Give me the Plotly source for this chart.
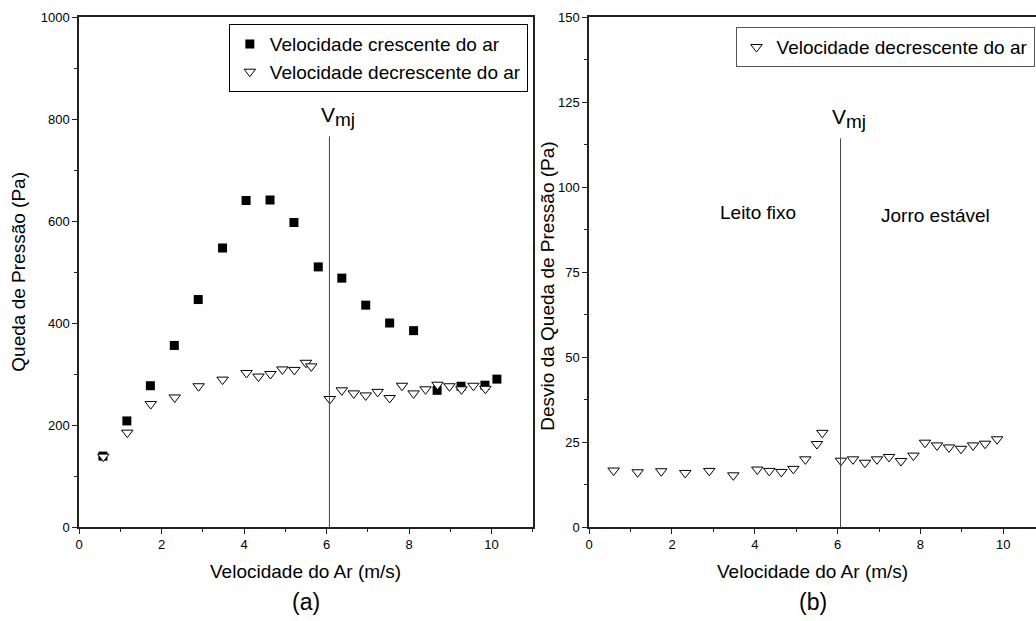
import plotly.graph_objects as go

# ---- data ----
vel_cres = [0.58, 1.16, 1.73, 2.31, 2.89, 3.48, 4.05, 4.63, 5.21, 5.80, 6.37, 6.95, 7.53, 8.11, 8.68, 9.26, 9.84, 10.13]
dp_cres = [139, 208, 277, 356, 446, 547, 640, 641, 597, 510, 488, 435, 400, 385, 268, 276, 278, 290]

vel_decr = [0.59, 1.17, 1.74, 2.32, 2.90, 3.48, 4.06, 4.35, 4.64, 4.93, 5.22, 5.50, 5.63, 6.08, 6.37, 6.66,
            6.95, 7.24, 7.53, 7.83, 8.11, 8.40, 8.69, 8.98, 9.27, 9.56, 9.85]
dp_decr = [138, 185, 241, 254, 276, 289, 302, 295, 300, 309, 308, 322, 315, 251, 268, 262,
           258, 265, 253, 277, 262, 270, 279, 276, 270, 277, 271]
desvio_decr = [16.6, 16.1, 16.4, 15.9, 16.5, 15.2, 16.9, 16.5, 16.2, 17.1, 19.9, 24.4, 27.7, 19.5, 19.9, 18.9,
               19.9, 20.6, 19.4, 21.0, 24.8, 24.0, 23.4, 23.0, 24.0, 24.5, 25.8]

v_mj = 6.07
vmj_top_a = 766
vmj_top_b = 114.3

FONT = "Liberation Sans, Arial, sans-serif"
TXT = 19

fig = go.Figure()

fig.add_trace(go.Scatter(
    x=vel_cres, y=dp_cres, mode="markers", name="Velocidade crescente do ar",
    marker=dict(symbol="square", size=9, color="black"),
    xaxis="x", yaxis="y", legend="legend"))
fig.add_trace(go.Scatter(
    x=vel_decr, y=dp_decr, mode="markers", name="Velocidade decrescente do ar",
    marker=dict(symbol="triangle-down", size=10, color="white", line=dict(color="black", width=1)),
    xaxis="x", yaxis="y", legend="legend"))
fig.add_trace(go.Scatter(
    x=vel_decr, y=desvio_decr, mode="markers", name="Velocidade decrescente do ar",
    marker=dict(symbol="triangle-down", size=10, color="white", line=dict(color="black", width=1)),
    xaxis="x2", yaxis="y2", legend="legend2"))

# Vmj lines
fig.add_trace(go.Scatter(x=[v_mj, v_mj], y=[0, vmj_top_a], mode="lines",
                         line=dict(color="#444", width=1), showlegend=False, hoverinfo="skip",
                         xaxis="x", yaxis="y"))
fig.add_trace(go.Scatter(x=[v_mj, v_mj], y=[0, vmj_top_b], mode="lines",
                         line=dict(color="#444", width=1), showlegend=False, hoverinfo="skip",
                         xaxis="x2", yaxis="y2"))

axis_common = dict(showgrid=False, zeroline=False, showline=True, linecolor="#222", linewidth=1.5,
                   ticks="outside", ticklen=5, tickwidth=1.2, tickcolor="#222",
                   tickfont=dict(size=13, color="black", family=FONT))

fig.update_layout(
    width=1036, height=621,
    margin=dict(l=79, r=0, t=17, b=93.5),
    plot_bgcolor="white", paper_bgcolor="white",
    font=dict(family=FONT, color="black"),
    xaxis=dict(domain=[0, 0.4742], range=[0, 11], tickvals=[0, 2, 4, 6, 8, 10], mirror=True,
               minor=dict(dtick=1, ticks="outside", ticklen=3, tickcolor="#222"), anchor="y", **axis_common),
    yaxis=dict(domain=[0, 1], range=[0, 1000], tickvals=[0, 200, 400, 600, 800, 1000], mirror=True,
               minor=dict(dtick=100, ticks="outside", ticklen=3, tickcolor="#222"), anchor="x", **axis_common),
    xaxis2=dict(domain=[0.5331, 1], range=[0, 10.79], tickvals=[0, 2, 4, 6, 8, 10], mirror=True,
                minor=dict(dtick=1, ticks="outside", ticklen=3, tickcolor="#222"), anchor="y2", **axis_common),
    yaxis2=dict(domain=[0, 1], range=[0, 150], tickvals=[0, 25, 50, 75, 100, 125, 150], mirror=False,
                minor=dict(dtick=12.5, ticks="outside", ticklen=3, tickcolor="#222"), anchor="x2", **axis_common),
    legend=dict(x=0.469, y=0.986, xanchor="right", yanchor="top", bgcolor="white",
                bordercolor="black", borderwidth=1, font=dict(size=TXT, family=FONT),
                tracegroupgap=0, itemsizing="trace"),
    legend2=dict(x=0.686, y=0.980, xanchor="left", yanchor="top", bgcolor="white",
                 bordercolor="#555", borderwidth=1, font=dict(size=TXT, family=FONT)),
    showlegend=True,
)

VMJ = "V<sub><span style='font-size:19px'>mj</span></sub>"

ann = []
# axis titles
ann.append(dict(text="Velocidade do Ar (m/s)", xref="x domain", yref="paper", x=0.5, y=-0.0866,
                showarrow=False, font=dict(size=TXT), xanchor="center", yanchor="middle"))
ann.append(dict(text="Velocidade do Ar (m/s)", xref="x2 domain", yref="paper", x=0.5, y=-0.0866,
                showarrow=False, font=dict(size=TXT), xanchor="center", yanchor="middle"))
ann.append(dict(text="(a)", xref="x domain", yref="paper", x=0.5, y=-0.148,
                showarrow=False, font=dict(size=23), xanchor="center", yanchor="middle"))
ann.append(dict(text="(b)", xref="x2 domain", yref="paper", x=0.5, y=-0.148,
                showarrow=False, font=dict(size=23), xanchor="center", yanchor="middle"))
ann.append(dict(text="Queda de Pressão (Pa)", xref="paper", yref="paper", x=-0.0641, y=0.5, textangle=-90,
                showarrow=False, font=dict(size=TXT), xanchor="center", yanchor="middle"))
ann.append(dict(text="Desvio da Queda de Pressão (Pa)", xref="paper", yref="paper", x=0.49, y=0.473,
                textangle=-90, showarrow=False, font=dict(size=TXT), xanchor="center", yanchor="middle"))
# Vmj labels
ann.append(dict(text=VMJ, xref="x", yref="y", x=v_mj + 0.2, y=vmj_top_a + 8,
                showarrow=False, font=dict(size=21), xanchor="center", yanchor="bottom"))
ann.append(dict(text=VMJ, xref="x2", yref="y2", x=v_mj + 0.2, y=vmj_top_b + 1.2,
                showarrow=False, font=dict(size=21), xanchor="center", yanchor="bottom"))
ann.append(dict(text="Leito fixo", xref="x2", yref="y2", x=4.08, y=92.4,
                showarrow=False, font=dict(size=TXT), xanchor="center", yanchor="middle"))
ann.append(dict(text="Jorro estável", xref="x2", yref="y2", x=8.37, y=91.5,
                showarrow=False, font=dict(size=TXT), xanchor="center", yanchor="middle"))
fig.update_layout(annotations=ann)

fig.write_html("out.html")
